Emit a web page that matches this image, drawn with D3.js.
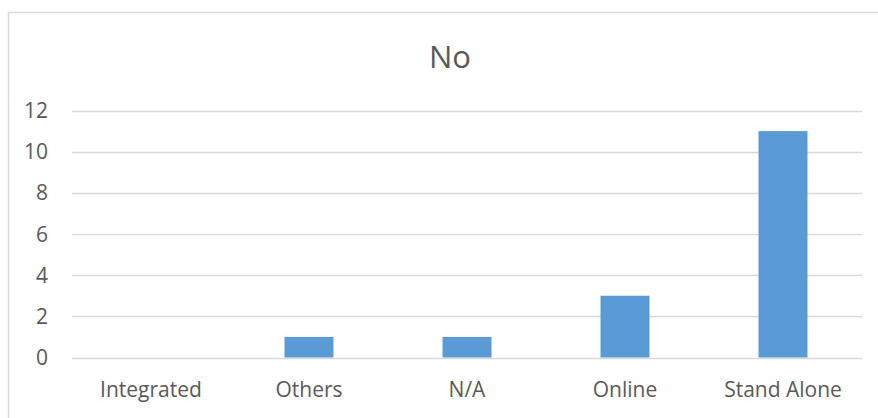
<!DOCTYPE html>
<html><head><meta charset="utf-8">
<script src="https://cdn.jsdelivr.net/npm/d3@7"></script>
<style>body{margin:0;background:#fff;} svg{display:block;}</style>
</head><body>
<script>
const categories = ["Integrated", "Others", "N/A", "Online", "Stand Alone"];
const values = [0, 1, 1, 3, 11];
const yTicks = [0, 2, 4, 6, 8, 10, 12];
const title = "No";

const W = 878, H = 418;
const svg = d3.select("body").append("svg").attr("width", W).attr("height", H);
svg.append("rect").attr("x", 8.5).attr("y", 12.5).attr("width", W + 20).attr("height", H + 20)
  .attr("fill", "#fff").attr("stroke", "#D9D9D9").attr("stroke-width", 1.5);

const x = d3.scaleBand().domain(categories).range([72, 862]).paddingInner(0.69).paddingOuter(0.345);
const y = d3.scaleLinear().domain([0, 12]).range([357.5, 110.5]);

const font = "'Open Sans', sans-serif";
svg.append("g").selectAll("line").data(yTicks).join("line")
  .attr("x1", 72).attr("x2", 862).attr("y1", d => Math.round(y(d)) + 0.5).attr("y2", d => Math.round(y(d)) + 0.5)
  .attr("stroke", "#D9D9D9").attr("stroke-width", 1.3);

svg.append("g").selectAll("text").data(yTicks).join("text")
  .attr("x", 48).attr("y", d => y(d) + 7.5).attr("text-anchor", "end")
  .attr("font-family", font).attr("font-size", 21).attr("fill", "#595959").text(d => d);

svg.append("g").selectAll("rect").data(values).join("rect")
  .attr("x", (d, i) => x(categories[i])).attr("width", x.bandwidth())
  .attr("y", d => y(d)).attr("height", d => y(0) - y(d)).attr("fill", "#5B9BD5");

svg.append("g").selectAll("text").data(categories).join("text")
  .attr("x", d => x(d) + x.bandwidth() / 2).attr("y", 396.5).attr("text-anchor", "middle")
  .attr("font-family", font).attr("font-size", 21).attr("fill", "#595959").text(d => d);

svg.append("text").attr("x", 450).attr("y", 67.5).attr("text-anchor", "middle")
  .attr("font-family", font).attr("font-size", 31).attr("fill", "#595959").text(title);
</script>
</body></html>
